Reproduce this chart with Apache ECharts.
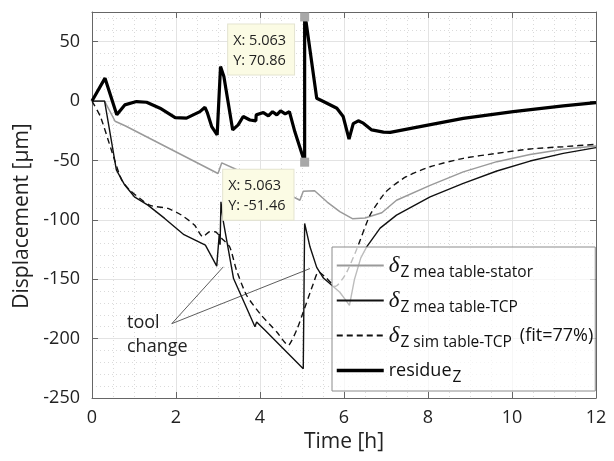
<!DOCTYPE html>
<html>
<head>
<meta charset="utf-8">
<script src="https://cdn.jsdelivr.net/npm/echarts@6/dist/echarts.min.js"></script>
<style>
html,body{margin:0;padding:0;background:#fff;}
#chart{width:614px;height:461px;}
</style>
</head>
<body>
<div id="chart"></div>
<script>
// ---- data (time in h, displacement in µm) ----
var residueT = [0,0.31,0.59,0.78,1.06,1.3,1.62,1.98,2.25,2.57,2.69,2.75,2.85,2.98,3.06,3.14,3.35,3.48,3.6,3.76,3.9,3.91,4.08,4.2,4.3,4.4,4.49,4.6,4.7,4.83,5.063,5.063,5.1,5.35,5.51,5.83,5.98,6.12,6.22,6.34,6.46,6.66,6.94,7.1,7.81,8.84,10.03,11.22,12];
var residueY = [0,19.3,-11.6,-3.2,-0.4,-1,-6,-13.9,-14.4,-8.9,-5.2,-10.2,-21.5,-28.5,29.1,20.7,-24.3,-20,-13,-15.9,-16.7,-11.6,-9.7,-12.5,-8.9,-11.6,-8.3,-10.8,-8.9,-25.9,-51.46,70.86,66,2.4,-0.4,-6,-13,-32,-19,-16.6,-18.6,-24.3,-26.2,-26.3,-21.5,-14.6,-8.9,-4,-1.3];

var statorT = [0,0.3,0.55,0.8,3.0,3.09,3.4,4.87,4.95,5.03,5.3,5.6,5.9,6.2,6.5,6.9,7.25,8.05,8.84,9.64,10.43,11.22,12];
var statorY = [0,0,-17,-21,-61,-52,-57,-82,-83.5,-76,-75.5,-85,-93,-99,-98.5,-94,-83.5,-71,-59.6,-51,-45,-40.6,-37.8];

var tcpT = [0,0.3,0.58,0.78,1.01,1.33,1.73,2.19,2.7,2.97,3.03,3.05,3.07,3.12,3.37,3.6,3.88,3.92,4.12,4.48,5.03,5.063,5.063,5.19,5.35,5.51,5.71,5.9,6.05,6.13,6.25,6.4,6.54,6.86,7.25,8.05,8.84,9.64,10.43,11.22,12];
var tcpY = [0,0,-58,-70.7,-80.6,-87.6,-98.8,-112.5,-121.3,-139,-112,-121,-84.8,-100,-149.4,-167.7,-190,-186,-193,-205.7,-225.3,-225.4,-103,-122.7,-140,-149,-155,-161,-168,-172,-150,-132,-122.8,-107,-96,-80.6,-69.3,-58.9,-50.5,-44,-39.2];

var simT = [0,0.2,0.45,0.7,0.9,1.37,1.81,2.13,2.44,2.64,2.8,2.93,3.09,3.28,3.44,3.68,4.0,4.4,4.67,4.87,5.03,5.27,5.39,5.55,5.8,6.05,6.3,6.62,7.0,7.48,8.05,8.84,9.64,10.43,11.22,12];
var simY = [0,-13,-40,-66,-75,-87.6,-90.4,-96,-104.4,-114.3,-110,-110,-115.7,-122.8,-142.4,-163.5,-179,-194.5,-205.7,-193,-177.6,-153.6,-143.8,-148,-156,-145,-125,-96,-76.3,-63.7,-55.3,-48.2,-44,-40.3,-38.4,-36.4];

var xTicks = {min:0, max:12, interval:2};
var yTicks = {min:-250, max:75, interval:50};
var dataTips = [[5.063, 70.86], [5.063, -51.46]];
var toolChangeFrom = [1.9, -187.4];
var toolChangeTo = [[3.126, -139.6], [5.19, -141]];

function pairs(t, y){ return t.map(function(v,i){ return [v, y[i]]; }); }

var FONT = 'Open Sans';
var legendText = {
  stator: '{d|δ}{s|Z mea table-stator}',
  tcp: '{d|δ}{s|Z mea table-TCP}',
  sim: '{d|δ}{s|Z sim table-TCP}{f|(fit=77%)}',
  residue: '{r|residue}{s|Z}'
};

var chart = echarts.init(document.getElementById('chart'), null, {renderer:'canvas'});
var axisCol = '#666';
chart.setOption({
  animation: false,
  backgroundColor: '#fff',
  textStyle: {fontFamily: FONT},
  grid: {left: 92, right: 18, top: 12, bottom: 63, containLabel: false},
  xAxis: [{
    type: 'value', min: xTicks.min, max: xTicks.max, interval: xTicks.interval, position: 'bottom',
    name: 'Time [h]', nameLocation: 'middle', nameGap: 31,
    nameTextStyle: {fontSize: 21, color: '#222', fontFamily: FONT},
    axisLine: {show: true, onZero: false, lineStyle: {color: axisCol, width: 1}},
    axisTick: {show: true, inside: true, length: 6, lineStyle: {color: axisCol}},
    axisLabel: {fontSize: 18, color: '#222', margin: 11, fontFamily: FONT},
    splitLine: {show: true, lineStyle: {color: '#e3e3e3', width: 1}},
    minorTick: {show: false, splitNumber: 4},
    minorSplitLine: {show: true, lineStyle: {color: '#dadada', type: [1,3], width: 1}}
  }, {
    type: 'value', min: xTicks.min, max: xTicks.max, interval: xTicks.interval, position: 'top',
    axisLine: {show: true, onZero: false, lineStyle: {color: axisCol, width: 1}},
    axisTick: {show: true, inside: true, length: 6, lineStyle: {color: axisCol}},
    axisLabel: {show: false}, splitLine: {show: false}
  }],
  yAxis: [{
    type: 'value', min: yTicks.min, max: yTicks.max, interval: 10, position: 'left',
    axisLine: {show: false}, axisTick: {show: false}, axisLabel: {show: false},
    splitLine: {show: true, lineStyle: {color: '#dadada', type: [1,3], width: 1}}
  }, {
    type: 'value', min: yTicks.min, max: yTicks.max, interval: yTicks.interval, position: 'left',
    name: 'Displacement [μm]', nameLocation: 'middle', nameGap: 58,
    nameTextStyle: {fontSize: 21, color: '#222', fontFamily: FONT, padding: [0, 22, 0, 0]},
    axisLine: {show: true, onZero: false, lineStyle: {color: axisCol, width: 1}},
    axisTick: {show: true, inside: true, length: 6, lineStyle: {color: axisCol}},
    axisLabel: {fontSize: 18, color: '#222', margin: 12, fontFamily: FONT, showMaxLabel: false},
    splitLine: {show: true, lineStyle: {color: '#e3e3e3', width: 1}}
  }, {
    type: 'value', min: yTicks.min, max: yTicks.max, interval: yTicks.interval, position: 'right',
    axisLine: {show: true, onZero: false, lineStyle: {color: axisCol, width: 1}},
    axisTick: {show: true, inside: true, length: 6, lineStyle: {color: axisCol}},
    axisLabel: {show: false}, splitLine: {show: false}
  }],
  legend: {
    data: [
      {name: 'stator'},
      {name: 'tcp'},
      {name: 'sim'},
      {name: 'residue', lineStyle: {width: 3.5}}
    ],
    orient: 'vertical', left: 332, top: 247,
    padding: [3, 2, 5, 3], itemGap: 4, itemWidth: 47, itemHeight: 14,
    backgroundColor: 'rgba(255,255,255,0.72)', borderColor: '#8c8c8c', borderWidth: 1,
    selectedMode: false,
    itemStyle: {color: 'rgba(0,0,0,0)', borderWidth: 0, opacity: 0},
    formatter: function(n){ return legendText[n]; },
    textStyle: {
      color: '#111', fontFamily: FONT,
      rich: {
        d: {fontFamily: 'Liberation Serif', fontStyle: 'italic', fontSize: 23, lineHeight: 30, color: '#111'},
        s: {fontSize: 15.5, lineHeight: 15, padding: [15, 0, 0, 1], color: '#111', fontFamily: FONT},
        f: {fontSize: 18, lineHeight: 30, padding: [0, 0, 0, 8], color: '#111', fontFamily: FONT},
        r: {fontSize: 18, lineHeight: 30, color: '#111', fontFamily: FONT}
      }
    }
  },
  series: [{
    name: 'stator', type: 'line', xAxisIndex: 0, yAxisIndex: 1, symbol: 'none',
    data: pairs(statorT, statorY),
    lineStyle: {color: '#9a9a9a', width: 1.5}, itemStyle: {color: '#9a9a9a'}
  }, {
    name: 'sim', type: 'line', xAxisIndex: 0, yAxisIndex: 1, symbol: 'none', smooth: 0.2,
    data: pairs(simT, simY),
    lineStyle: {color: '#111', width: 1.4, type: [6, 4]}, itemStyle: {color: '#111'}
  }, {
    name: 'tcp', type: 'line', xAxisIndex: 0, yAxisIndex: 1, symbol: 'none',
    data: pairs(tcpT, tcpY),
    lineStyle: {color: '#111', width: 1.4}, itemStyle: {color: '#111'},
    markLine: {
      silent: true, symbol: ['none', 'none'], label: {show: false},
      lineStyle: {color: '#333', width: 0.8, type: 'solid'},
      data: toolChangeTo.map(function(p){ return [{coord: toolChangeFrom}, {coord: p}]; })
    }
  }, {
    name: 'residue', type: 'line', xAxisIndex: 0, yAxisIndex: 1, symbol: 'none',
    data: pairs(residueT, residueY),
    lineStyle: {color: '#000', width: 3.2}, itemStyle: {color: '#000'},
    markPoint: {
      symbol: 'rect', symbolSize: 9, silent: true,
      itemStyle: {color: '#a8a8a8', opacity: 1},
      label: {
        show: true, color: '#222', fontSize: 14.5, lineHeight: 20, fontFamily: FONT,
        backgroundColor: '#fbfbe4', borderColor: '#e4e4d0', borderWidth: 1,
        padding: [6, 8, 4, 5], align: 'left', verticalAlign: 'top',
        formatter: function(p){ return 'X: ' + p.data.coord[0].toFixed(3) + '\nY: ' + p.data.coord[1]; }
      },
      data: [
        {coord: dataTips[0], label: {position: [-72, 12]}},
        {coord: dataTips[1], label: {position: [-77, 12]}}
      ]
    }
  }],
  graphic: [{
    type: 'text', left: 127, top: 311, z: 10,
    style: {text: 'tool\nchange', font: '18px "Open Sans"', fill: '#222', lineHeight: 24}
  }]
});
</script>
</body>
</html>
